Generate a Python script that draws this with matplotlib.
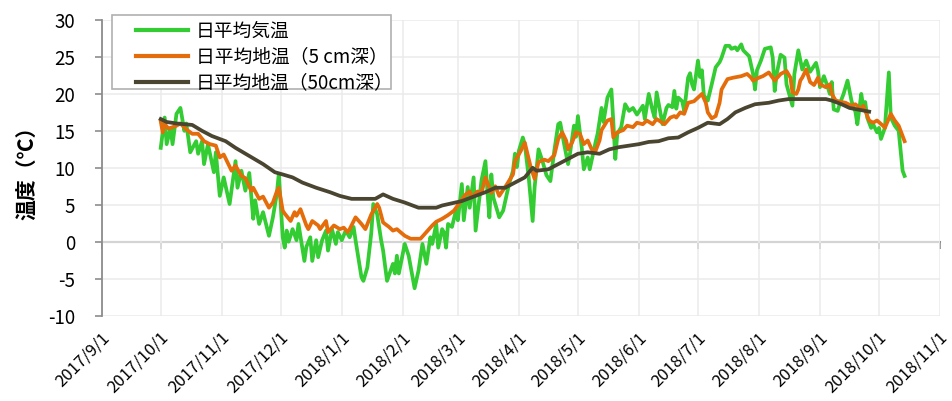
import numpy as np
import pandas as pd
import matplotlib
matplotlib.use("Agg")
import matplotlib.pyplot as plt
import matplotlib.dates as mdates
import matplotlib.transforms as mtransforms
from matplotlib.patches import Rectangle
from matplotlib.ticker import FuncFormatter, MultipleLocator

plt.rcParams['font.family'] = ['Noto Sans CJK JP', 'DejaVu Sans']
plt.rcParams['axes.unicode_minus'] = False

# Days counted from 2017/10/1
start = pd.Timestamp('2017-10-01')

air_day = [0, 2, 3, 5, 6, 8, 10, 12, 13, 15, 18, 19, 21, 22, 24, 27, 28, 30, 32, 35,
           38, 39, 41, 43, 45, 47, 48, 50, 52, 55, 57, 59, 60, 62, 63, 64, 65, 67, 69, 70,
           73, 74, 76, 77, 79, 80, 82, 84, 85, 87, 89, 90, 92, 94, 96, 98, 99, 102, 103, 105,
           107, 108, 110, 112, 113, 115, 118, 119, 120, 121, 124, 126, 129, 131, 133, 135, 137, 138, 140, 141,
           143, 144, 145, 146, 148, 150, 151, 153, 154, 156, 157, 159, 160, 162, 163, 165, 166, 167, 168, 169,
           172, 174, 177, 179, 180, 181, 182, 184, 185, 187, 189, 190, 192, 194, 196, 198, 200, 202, 203, 205,
           207, 208, 210, 211, 212, 214, 215, 217, 218, 221, 222, 224, 225, 227, 229, 230, 231, 232, 234, 236,
           238, 240, 242, 245, 246, 248, 250, 251, 252, 255, 257, 258, 260, 261, 262, 263, 265, 266, 268, 269,
           270, 271, 273, 274, 275, 276, 278, 280, 282, 284, 285, 287, 289, 290, 292, 293, 295, 296, 299, 301,
           302, 303, 305, 307, 310, 311, 312, 313, 315, 317, 318, 321, 322, 324, 326, 328, 330, 333, 334, 335,
           337, 339, 340, 341, 342, 344, 345, 347, 349, 351, 352, 353, 354, 356, 357, 358, 359, 361, 362, 364,
           365, 366, 368, 370, 371, 373, 375, 376, 377, 378]
air_temp = [12.7, 16.8, 13.2, 15.4, 13.2, 17.3, 18.1, 15.0, 16.0, 12.1, 13.6, 11.9, 13.6, 10.5, 13.2, 9.4, 12.1, 6.2, 8.7, 5.1,
            10.9, 7.3, 9.6, 6.9, 9.3, 3.1, 5.6, 2.4, 4.0, 0.8, 3.3, 6.5, 9.2, 0.6, -0.8, 1.5, 0.0, 1.7, 0.2, 2.4,
            -2.6, -0.7, 0.6, -2.6, 0.2, -2.1, 0.2, 1.5, -1.2, 1.7, -0.3, 1.3, 0.2, 1.5, 0.6, 2.0, 0.2, -4.8, -5.3, -3.5,
            1.2, 5.1, 3.7, 0.2, -1.2, -5.3, -3.0, -4.3, -1.9, -4.3, -0.3, -1.9, -6.3, -3.9, -0.3, -3.0, 0.6, -0.3, 2.4, -0.8,
            1.7, 1.2, -0.8, 2.4, 2.0, 4.2, 2.9, 7.8, 2.9, 7.4, 4.6, 8.7, 1.5, 6.1, 8.3, 10.9, 6.8, 3.3, 9.1, 6.0,
            3.3, 4.2, 7.8, 9.6, 11.9, 10.1, 12.3, 14.1, 13.2, 8.7, 2.8, 7.4, 12.5, 10.9, 9.0, 8.2, 12.3, 15.9, 16.1, 13.2,
            10.5, 12.0, 15.7, 14.2, 17.0, 12.6, 9.8, 11.4, 9.8, 13.5, 14.6, 18.1, 16.2, 19.5, 20.6, 16.2, 11.2, 14.6, 15.5, 18.6,
            17.7, 18.1, 17.2, 18.4, 16.6, 20.0, 17.7, 16.8, 20.2, 15.9, 18.1, 18.5, 18.2, 20.4, 18.0, 19.5, 19.0, 17.7, 22.2, 22.8,
            21.3, 20.6, 24.5, 22.3, 23.2, 19.8, 19.1, 21.3, 23.6, 24.3, 24.9, 26.5, 26.5, 26.1, 26.3, 25.9, 26.7, 25.9, 25.1, 22.7,
            20.6, 23.2, 24.5, 26.1, 26.3, 24.9, 20.4, 22.7, 25.3, 24.9, 21.3, 18.4, 22.7, 25.9, 23.3, 24.5, 23.0, 24.2, 23.1, 20.9,
            22.4, 20.9, 20.0, 21.6, 17.9, 17.7, 18.6, 20.0, 21.8, 19.1, 18.2, 17.6, 15.9, 20.0, 18.2, 18.9, 16.8, 15.4, 15.9, 14.8,
            15.4, 13.9, 15.4, 22.9, 16.8, 15.7, 15.0, 12.3, 9.6, 8.9]

soil5_day = [0, 1, 2, 4, 8, 10, 13, 16, 19, 22, 25, 28, 30, 32, 36, 38, 41, 43, 46, 47,
             50, 52, 55, 57, 59, 60, 62, 63, 66, 68, 69, 71, 74, 75, 77, 80, 81, 84, 85, 88,
             91, 93, 95, 96, 99, 102, 104, 107, 110, 111, 113, 116, 118, 120, 124, 127, 130, 132, 135, 138,
             140, 143, 146, 149, 152, 155, 157, 158, 161, 163, 165, 168, 170, 172, 176, 179, 180, 183, 185, 186,
             188, 190, 192, 194, 195, 197, 200, 202, 204, 206, 207, 209, 211, 213, 215, 217, 219, 221, 223, 224,
             227, 229, 230, 232, 235, 237, 240, 242, 245, 247, 250, 252, 256, 259, 261, 262, 264, 266, 268, 271,
             273, 275, 277, 278, 280, 282, 284, 285, 288, 291, 295, 298, 300, 301, 304, 306, 309, 312, 315, 318,
             320, 321, 323, 324, 325, 326, 328, 330, 332, 334, 335, 338, 340, 341, 343, 346, 348, 351, 353, 356,
             357, 360, 362, 364, 367, 368, 371, 373, 375, 378]
soil5_temp = [16.3, 14.8, 15.9, 15.3, 15.7, 16.0, 15.2, 14.6, 14.6, 13.6, 13.2, 13.0, 11.4, 11.8, 9.6, 10.3, 8.9, 8.6, 6.9, 7.3,
              5.8, 6.1, 4.6, 5.3, 6.8, 7.3, 4.2, 3.8, 2.8, 4.0, 3.5, 4.4, 2.2, 1.7, 2.8, 2.2, 1.7, 2.8, 1.3, 2.2,
              1.7, 1.9, 1.3, 1.7, 3.3, 2.4, 1.7, 3.7, 5.1, 4.6, 2.6, 2.0, 1.5, 1.7, 0.8, 0.4, 0.4, 0.4, 1.3, 2.2,
              2.7, 3.1, 3.6, 4.2, 5.3, 6.4, 6.8, 6.0, 6.8, 6.6, 8.7, 6.6, 7.5, 6.2, 7.8, 9.1, 10.9, 12.3, 13.4, 12.3,
              10.1, 8.5, 10.8, 11.0, 11.1, 10.9, 11.7, 13.9, 14.8, 13.7, 12.5, 13.4, 14.8, 14.6, 13.2, 13.7, 12.5, 12.3, 13.7, 15.1,
              16.4, 16.6, 14.1, 14.8, 15.1, 15.7, 15.5, 16.1, 15.9, 16.4, 15.9, 16.6, 15.9, 16.8, 17.0, 16.8, 17.5, 17.3, 18.8, 19.0,
              19.5, 20.0, 18.8, 17.5, 16.7, 17.0, 18.8, 20.6, 22.0, 22.2, 22.4, 22.7, 22.2, 21.8, 22.2, 22.4, 22.9, 21.8, 22.7, 23.1,
              22.2, 20.2, 20.0, 20.6, 21.8, 22.2, 23.3, 21.6, 21.2, 22.2, 21.3, 20.9, 21.3, 20.0, 19.1, 18.9, 18.8, 18.4, 18.6, 17.9,
              18.4, 16.4, 16.1, 16.4, 15.7, 15.4, 17.3, 16.4, 15.7, 13.6]

soil50_day = [0, 3, 8, 16, 21, 26, 33, 38, 45, 52, 58, 62, 67, 72, 79, 86, 91, 97, 109, 113,
              118, 124, 131, 140, 143, 148, 153, 160, 165, 170, 175, 180, 185, 189, 191, 197, 202, 207, 212, 217,
              223, 228, 233, 238, 243, 248, 253, 258, 263, 268, 273, 278, 284, 288, 292, 297, 302, 309, 314, 319,
              324, 331, 338, 341, 346, 350, 354, 358, 360]
soil50_temp = [16.6, 16.2, 16.0, 15.8, 15.0, 14.3, 13.6, 12.7, 11.6, 10.5, 9.4, 9.1, 8.7, 8.0, 7.3, 6.7, 6.2, 5.8, 5.8, 6.4,
               5.8, 5.3, 4.6, 4.6, 4.9, 5.2, 5.5, 6.2, 6.7, 7.3, 7.3, 8.0, 8.7, 10.0, 9.6, 9.8, 10.5, 11.2, 11.9, 12.1,
               11.9, 12.5, 12.8, 13.0, 13.2, 13.5, 13.6, 14.0, 14.1, 14.8, 15.4, 16.1, 15.9, 16.6, 17.5, 18.1, 18.6, 18.8, 19.1, 19.3,
               19.3, 19.3, 19.3, 19.1, 18.6, 18.1, 17.9, 17.7, 17.6]

labels = ['日平均気温', '日平均地温（5 cm深）', '日平均地温（50cm深）']
colors = ['#33cc33', '#e46c0a', '#4a4530']


def to_dates(days):
    return start + pd.to_timedelta(days, unit='D')


W, H = 952, 401
fig = plt.figure(figsize=(W / 100, H / 100), dpi=100)
ax = fig.add_axes([101.7 / W, 1 - 315.6 / H, (940 - 101.7) / W, (315.6 - 20) / H])

series = [(air_day, air_temp), (soil5_day, soil5_temp), (soil50_day, soil50_temp)]
handles = []
for (d, v), lab, c in zip(series, labels, colors):
    h, = ax.plot(to_dates(d), v, color=c, lw=2.7, label=lab, solid_joinstyle='round')
    handles.append(h)

ax.set_xlim(pd.Timestamp('2017-09-01'), pd.Timestamp('2018-11-01'))
ax.set_ylim(-10, 30)
ax.yaxis.set_major_locator(MultipleLocator(5))

ax.xaxis.set_major_locator(mdates.MonthLocator())
ax.xaxis.set_major_formatter(FuncFormatter(
    lambda x, pos: '{0.year}/{0.month}/{0.day}'.format(mdates.num2date(x))))

ax.grid(True, color='#ebebeb', lw=1.1)
ax.set_axisbelow(True)
for s in ['top', 'right', 'bottom']:
    ax.spines[s].set_visible(False)
ax.spines['left'].set_color('#8c8c8c')
ax.spines['left'].set_linewidth(1.3)

ax.tick_params(axis='y', direction='out', length=5, width=1.2, color='#8c8c8c',
               labelsize=13.5, pad=14)
ax.tick_params(axis='x', length=0, labelsize=12, pad=14)
shift = mtransforms.ScaledTranslation(5 / 100, 0, fig.dpi_scale_trans)
for t in ax.get_xticklabels():
    t.set_rotation(45)
    t.set_ha('right')
    t.set_va('center')
    t.set_rotation_mode('anchor')
    t.set_transform(t.get_transform() + shift)

# zero line with month ticks
zero = ax.secondary_xaxis(0.25)
zero.xaxis.set_major_locator(mdates.MonthLocator())
zero.tick_params(axis='x', direction='out', length=5, width=1.2, color='#8c8c8c',
                 labelbottom=False)
zero.spines['bottom'].set_color('#8c8c8c')
zero.spines['bottom'].set_linewidth(1.5)

ax.set_ylabel('温度（℃）', fontsize=15, fontweight='bold', labelpad=7)

# legend box
fig.add_artist(Rectangle((112 / W, 1 - 89 / H), 279 / W, 74 / H, transform=fig.transFigure,
                         facecolor='white', edgecolor='#b0b0b0', lw=1.2, zorder=4))
leg = fig.legend(handles, labels, loc='upper left', bbox_to_anchor=(132 / W, 1 - 17 / H),
                 borderaxespad=0, fontsize=13.5, handlelength=2.8, labelspacing=0.25,
                 frameon=False, borderpad=0.2, handletextpad=0.4)
leg.set_zorder(5)
for ln in leg.get_lines():
    ln.set_linewidth(3)

fig.savefig('out.png', dpi=100)
